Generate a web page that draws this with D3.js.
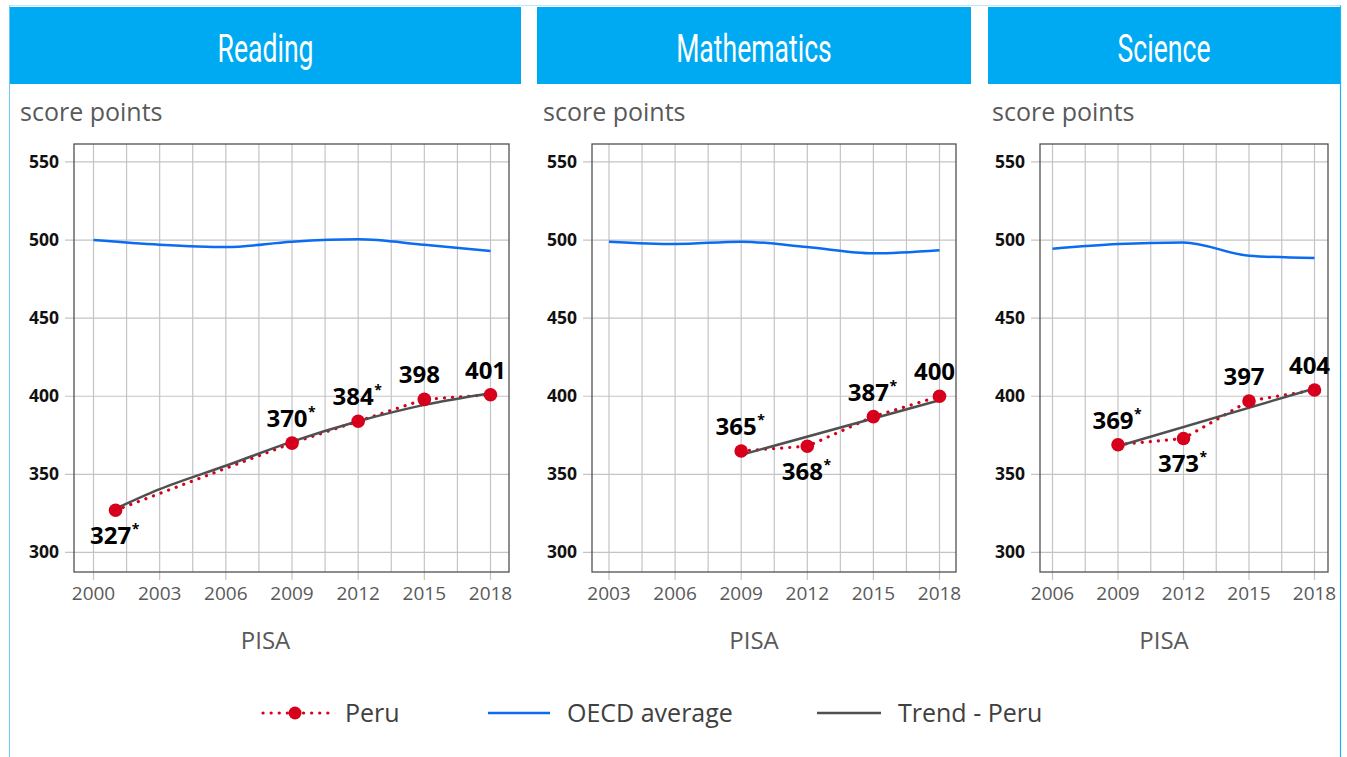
<!DOCTYPE html>
<html>
<head>
<meta charset="utf-8">
<script src="https://cdn.jsdelivr.net/npm/d3@7"></script>
<style>
  html, body { margin: 0; padding: 0; background: #fff; }
  svg { display: block; font-family: "Open Sans", "Noto Sans", sans-serif; }
</style>
</head>
<body>
<div id="chart"></div>
<script>
// ---------------- DATA ----------------
const subjects = ["Reading", "Mathematics", "Science"];

const readingYears = [2001, 2009, 2012, 2015, 2018];
const readingScores = [327, 370, 384, 398, 401];
const readingSignificant = [true, true, true, false, false];
const readingOecdYears = [2000, 2003, 2006, 2009, 2012, 2015, 2018];
const readingOecd = [500, 497, 495.5, 499, 500.5, 497, 493];
const readingTrendYears = [2001, 2003, 2006, 2009, 2012, 2015, 2018];
const readingTrend = [328, 340.5, 355.5, 371, 384, 394.5, 402];
const readingTickYears = [2000, 2003, 2006, 2009, 2012, 2015, 2018];

const mathYears = [2009, 2012, 2015, 2018];
const mathScores = [365, 368, 387, 400];
const mathSignificant = [true, true, true, false];
const mathOecdYears = [2003, 2006, 2009, 2012, 2015, 2018];
const mathOecd = [499, 497.5, 499, 495.5, 491.5, 493.5];
const mathTrendYears = [2009, 2018];
const mathTrend = [362.5, 397.5];
const mathTickYears = [2003, 2006, 2009, 2012, 2015, 2018];

const scienceYears = [2009, 2012, 2015, 2018];
const scienceScores = [369, 373, 397, 404];
const scienceSignificant = [true, true, false, false];
const scienceOecdYears = [2006, 2009, 2012, 2015, 2018];
const scienceOecd = [494.5, 497.5, 498.5, 490, 488.5];
const scienceTrendYears = [2009, 2018];
const scienceTrend = [368, 405];
const scienceTickYears = [2006, 2009, 2012, 2015, 2018];

const yTicks = [300, 350, 400, 450, 500, 550];
const legendLabels = ["Peru", "OECD average", "Trend - Peru"];
const yAxisTitle = "score points";
const xAxisTitle = "PISA";

// label placement (layout, not data)
const readingLabelPlace = ["below", "above", "above", "above", "above"];
const mathLabelPlace = ["above", "below", "above", "above"];
const scienceLabelPlace = ["above", "below", "above", "above"];

// ---------------- LAYOUT ----------------
const W = 1347, H = 757;
const COL = {
  header: "#00aaf2", frame: "#6cc8f2", red: "#d6001c", oecd: "#0a6cf0",
  trend: "#505050", grid: "#c4c4c4", border: "#505050", text: "#595959", legendText: "#404040"
};
const plotTop = 144, plotBottom = 572;

const panels = [
  { title: subjects[0], bar: [10, 521], box: [74, 509], xr: [93.5, 490.5],
    years: readingYears, scores: readingScores, sig: readingSignificant, place: readingLabelPlace,
    oecdYears: readingOecdYears, oecd: readingOecd, trendYears: readingTrendYears, trend: readingTrend,
    ticks: readingTickYears, subX: 20 },
  { title: subjects[1], bar: [537, 971], box: [592, 956], xr: [609, 939.5],
    years: mathYears, scores: mathScores, sig: mathSignificant, place: mathLabelPlace,
    oecdYears: mathOecdYears, oecd: mathOecd, trendYears: mathTrendYears, trend: mathTrend,
    ticks: mathTickYears, subX: 543 },
  { title: subjects[2], bar: [988, 1340], box: [1040, 1328], xr: [1052.5, 1314.5],
    years: scienceYears, scores: scienceScores, sig: scienceSignificant, place: scienceLabelPlace,
    oecdYears: scienceOecdYears, oecd: scienceOecd, trendYears: scienceTrendYears, trend: scienceTrend,
    ticks: scienceTickYears, subX: 992 }
];

const svg = d3.select("#chart").append("svg").attr("width", W).attr("height", H);
svg.append("rect").attr("width", W).attr("height", H).attr("fill", "#fff");

// outer frame
svg.append("line").attr("x1", 9.5).attr("x2", 9.5).attr("y1", 5).attr("y2", H).attr("stroke", COL.frame).attr("stroke-width", 1);
svg.append("line").attr("x1", 1340.5).attr("x2", 1340.5).attr("y1", 5).attr("y2", H).attr("stroke", "#1fb0f0").attr("stroke-width", 1.2);
svg.append("line").attr("x1", 9.5).attr("x2", 1340.5).attr("y1", 5.5).attr("y2", 5.5).attr("stroke", "#bfe6f8").attr("stroke-width", 1);

const y = d3.scaleLinear().domain([287.5, 561.5]).range([plotBottom, plotTop]);

panels.forEach(p => {
  const g = svg.append("g");
  const firstYear = p.ticks[0];
  const x = d3.scaleLinear().domain([firstYear, 2018]).range(p.xr);

  // header bar
  g.append("rect").attr("x", p.bar[0]).attr("y", 7).attr("width", p.bar[1] - p.bar[0]).attr("height", 77)
    .attr("fill", COL.header);
  const cx = (p.bar[0] + p.bar[1]) / 2;
  g.append("text").attr("transform", `translate(${cx},62) scale(0.7,1)`)
    .attr("text-anchor", "middle").attr("fill", "#fff")
    .style("font-family", "Roboto, 'DejaVu Sans Condensed', sans-serif").style("font-size", "38px")
    .text(p.title);

  // subtitle
  g.append("text").attr("x", p.subX).attr("y", 121).attr("fill", COL.text)
    .style("font-size", "25px").text(yAxisTitle);

  // vertical grid every 1.5 years
  const gridYears = d3.range(firstYear, 2018.01, 1.5);
  g.selectAll(".vg").data(gridYears).join("line")
    .attr("x1", d => x(d)).attr("x2", d => x(d))
    .attr("y1", plotTop).attr("y2", d => p.ticks.includes(d) ? plotBottom + 8 : plotBottom)
    .attr("stroke", COL.grid).attr("stroke-width", 1.2);

  // horizontal grid with outward ticks
  g.selectAll(".hg").data(yTicks).join("line")
    .attr("x1", p.box[0] - 9).attr("x2", p.box[1])
    .attr("y1", d => y(d)).attr("y2", d => y(d))
    .attr("stroke", COL.grid).attr("stroke-width", 1.2);

  // plot border
  g.append("rect").attr("x", p.box[0]).attr("y", plotTop)
    .attr("width", p.box[1] - p.box[0]).attr("height", plotBottom - plotTop)
    .attr("fill", "none").attr("stroke", COL.border).attr("stroke-width", 1.3);

  // y tick labels
  g.selectAll(".yl").data(yTicks).join("text")
    .attr("x", p.box[0] - 15).attr("y", d => y(d) + 6)
    .attr("text-anchor", "end").attr("fill", "#111")
    .style("font-size", "17.5px").style("font-weight", "bold")
    .text(d => d);

  // x tick labels
  g.selectAll(".xl").data(p.ticks).join("text")
    .attr("x", d => x(d)).attr("y", 600)
    .attr("text-anchor", "middle").attr("fill", COL.text)
    .style("font-size", "19px")
    .text(d => d);

  // x axis title
  g.append("text").attr("x", cx).attr("y", 649).attr("text-anchor", "middle")
    .attr("fill", COL.text).style("font-size", "24px").text(xAxisTitle);

  // OECD line
  const oecdPts = p.oecdYears.map((yr, i) => [yr, p.oecd[i]]);
  g.append("path").datum(oecdPts)
    .attr("d", d3.line().x(d => x(d[0])).y(d => y(d[1])).curve(d3.curveMonotoneX))
    .attr("fill", "none").attr("stroke", COL.oecd).attr("stroke-width", 2.5);

  // Peru dotted line
  const peruPts = p.years.map((yr, i) => [yr, p.scores[i]]);
  g.append("path").datum(peruPts)
    .attr("d", d3.line().x(d => x(d[0])).y(d => y(d[1])))
    .attr("fill", "none").attr("stroke", COL.red).attr("stroke-width", 3.2)
    .attr("stroke-linecap", "round").attr("stroke-dasharray", "0.1 8");

  // Trend line
  const trendPts = p.trendYears.map((yr, i) => [yr, p.trend[i]]);
  g.append("path").datum(trendPts)
    .attr("d", d3.line().x(d => x(d[0])).y(d => y(d[1])).curve(d3.curveMonotoneX))
    .attr("fill", "none").attr("stroke", COL.trend).attr("stroke-width", 2.5);

  // Peru markers
  g.selectAll(".pm").data(peruPts).join("circle")
    .attr("cx", d => x(d[0])).attr("cy", d => y(d[1])).attr("r", 6.8)
    .attr("fill", COL.red);

  // value labels
  peruPts.forEach((d, i) => {
    const px = x(d[0]) - 5;
    const py = y(d[1]) + (p.place[i] === "below" ? 34 : -16);
    const t = g.append("text").attr("x", px).attr("y", py).attr("text-anchor", "middle")
      .attr("fill", "#000").style("font-size", "24px").style("font-weight", "bold")
      .text(d[1]);
    if (p.sig[i]) {
      const w = t.node().getComputedTextLength();
      g.append("text").attr("x", px + w / 2 + 0.5).attr("y", py - 10)
        .attr("fill", "#000").style("font-size", "14px").style("font-weight", "bold").text("*");
    }
  });
});

// ---------------- LEGEND ----------------
const ly = 713;
const lg = svg.append("g");
lg.append("line").attr("x1", 263).attr("x2", 328).attr("y1", ly).attr("y2", ly)
  .attr("stroke", COL.red).attr("stroke-width", 3.2).attr("stroke-linecap", "round").attr("stroke-dasharray", "0.1 8");
lg.append("circle").attr("cx", 295).attr("cy", ly).attr("r", 6.5).attr("fill", COL.red);
lg.append("line").attr("x1", 488).attr("x2", 550).attr("y1", ly).attr("y2", ly)
  .attr("stroke", COL.oecd).attr("stroke-width", 2.5);
lg.append("line").attr("x1", 817).attr("x2", 881).attr("y1", ly).attr("y2", ly)
  .attr("stroke", COL.trend).attr("stroke-width", 2.5);
const legendX = [345, 567, 898];
lg.selectAll(".lt").data(legendLabels).join("text")
  .attr("x", (d, i) => legendX[i]).attr("y", ly + 9)
  .attr("fill", COL.legendText).style("font-size", "25px")
  .text(d => d);
</script>
</body>
</html>
